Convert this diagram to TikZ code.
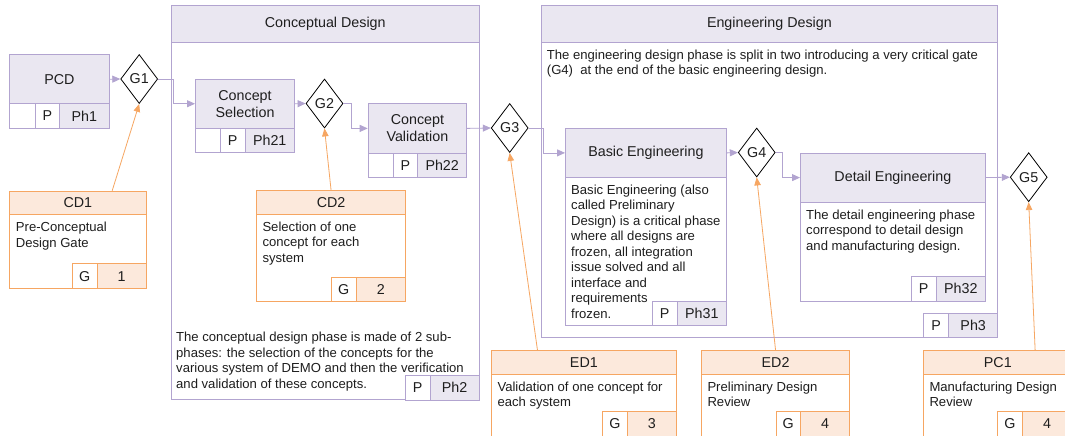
\documentclass[tikz,border=0pt]{standalone}
\usepackage{fontspec}
\setmainfont{Liberation Sans}
\usetikzlibrary{shapes.geometric,arrows.meta,calc}
\definecolor{lavline}{RGB}{178,164,208}
\definecolor{lavfill}{RGB}{234,231,241}
\definecolor{orline}{RGB}{246,166,98}
\definecolor{orfill}{RGB}{252,233,220}
\definecolor{txt}{RGB}{30,30,30}
\newcommand{\headf}{\fontsize{14.3}{17}\selectfont}
\newcommand{\bodyf}{\fontsize{13.1}{15.5}\selectfont}
\tikzset{
  basebox/.style={anchor=north west, inner sep=0pt, line width=0.8pt, text=txt, font=\headf, align=center},
  phasebox/.style={basebox, draw=lavline, fill=lavfill},
  whitebox/.style={basebox, draw=lavline, fill=white},
  cardhead/.style={basebox, draw=orline, fill=orfill},
  cardbody/.style={basebox, draw=orline, fill=white},
  pcell/.style={whitebox, minimum width=24.7pt, minimum height=24.6pt},
  phcell/.style={phasebox, minimum width=49.3pt, minimum height=24.6pt},
  gcell/.style={cardbody, minimum width=24.7pt, minimum height=25pt},
  ncell/.style={cardhead, minimum width=49.3pt, minimum height=25pt},
  remark/.style={anchor=north west, inner sep=0pt, align=left, font=\bodyf, text=txt},
  gate/.style={diamond, draw=black, fill=white, line width=0.8pt, minimum width=37pt, minimum height=49pt, inner sep=0pt, font=\headf, text=txt},
  flow/.style={draw=lavline, line width=0.8pt, -{Triangle[length=8pt,width=7pt]}},
  review/.style={draw=orline, line width=0.8pt, -{Triangle[length=8pt,width=6.5pt]}}
}
\begin{document}
\begin{tikzpicture}[x=1pt,y=-1pt]
  \path[use as bounding box, fill=white] (0,0) rectangle (1065,436);
  \clip (0,0) rectangle (1065,436);
  % Conceptual Design frame
  \node[whitebox, minimum width=308.3pt, minimum height=357.3pt] (CDbody) at (170.7,42) {};
  \node[phasebox, minimum width=308.3pt, minimum height=37.3pt] (CDhead) at (170.7,4.7) {Conceptual Design};
  \node[remark] (CDtext) at (176,332.3) {The conceptual design phase is made of 2 sub-\\phases: the selection of the concepts for the\\various system of DEMO and then the verification\\and validation of these concepts.};
  \node[pcell, minimum width=24.5pt] (CDp) at (405,375) {P};
  \node[phcell, minimum width=49.5pt] (CDph) at (429.5,375) {Ph2};
  % Engineering Design frame
  \node[whitebox, minimum width=456.6pt, minimum height=295.3pt] (EDbody) at (540.7,42) {};
  \node[phasebox, minimum width=456.6pt, minimum height=37.3pt] (EDhead) at (540.7,4.7) {Engineering Design};
  \node[remark] (EDtext) at (546.7,49.7) {The engineering design phase is split in two introducing a very critical gate\\(G4)~ at the end of the basic engineering design.};
  \node[pcell, minimum width=25pt] (EDp) at (923.3,312.7) {P};
  \node[phcell, minimum width=49pt] (EDph) at (948.3,312.7) {Ph3};
  % Phases
  \node[phasebox, minimum width=99.4pt, minimum height=49pt] (PCD) at (9.3,54.3) {PCD};
  \node[pcell, minimum width=25.4pt] (PCDe) at (9.3,103.3) {};
  \node[pcell, minimum width=24.6pt] (PCDp) at (34.7,103.3) {P};
  \node[phcell, minimum width=49.4pt] (PCDph) at (59.3,103.3) {Ph1};
  \node[phasebox, minimum width=99.3pt, minimum height=48.7pt] (CS) at (195,79) {Concept\\Selection};
  \node[pcell, minimum width=25pt] (CSe) at (195,127.7) {};
  \node[pcell] (CSp) at (220,127.7) {P};
  \node[phcell] (CSph) at (244.7,127.7) {Ph21};
  \node[phasebox, minimum width=98.6pt, minimum height=49.4pt] (CV) at (367.7,103.3) {Concept\\Validation};
  \node[pcell, minimum width=25pt] (CVe) at (367.7,152.7) {};
  \node[pcell] (CVp) at (392.7,152.7) {P};
  \node[phcell, minimum width=49pt] (CVph) at (417.3,152.7) {Ph22};
  \node[whitebox, minimum width=161pt, minimum height=148.3pt] (BEbody) at (565,176.7) {};
  \node[phasebox, minimum width=161pt, minimum height=48.4pt] (BE) at (565,128.3) {Basic Engineering};
  \node[remark] (BEtext) at (571,184.7) {Basic Engineering (also\\called Preliminary\\Design) is a critical phase\\where all designs are\\frozen, all integration\\issue solved and all\\interface and\\requirements\\frozen.};
  \node[pcell, minimum width=25pt, minimum height=24.3pt] (BEp) at (651.7,300.7) {P};
  \node[phcell, minimum height=24.3pt] (BEph) at (676.7,300.7) {Ph31};
  \node[whitebox, minimum width=185pt, minimum height=99pt] (DEbody) at (800,201.7) {};
  \node[phasebox, minimum width=185pt, minimum height=49pt] (DE) at (800,152.7) {Detail Engineering};
  \node[remark] (DEtext) at (806,209.7) {The detail engineering phase\\correspond to detail design\\and manufacturing design.};
  \node[pcell, minimum width=25pt, minimum height=24.7pt] (DEp) at (910.7,276) {P};
  \node[phcell, minimum height=24.7pt] (DEph) at (935.7,276) {Ph32};
  % Gates
  \node[gate] (G1) at (139.2,79) {G1};
  \node[gate] (G2) at (324.5,103.5) {G2};
  \node[gate] (G3) at (509.7,128) {G3};
  \node[gate] (G4) at (756.7,152.5) {G4};
  \node[gate] (G5) at (1028.7,177.2) {G5};
  % Flow
  \draw[flow] (PCD.east) -- (G1.west);
  \draw[flow] (G1.east) -- ++(15,0) |- (CS.west);
  \draw[flow] (CS.east) -- (G2.west);
  \draw[flow] (G2.east) -- ++(8,0) |- (CV.west);
  \draw[flow] (CV.east) -- (G3.west);
  \draw[flow] (G3.east) -- ++(15,0) |- (BE.west);
  \draw[flow] (BE.east) -- (G4.west);
  \draw[flow] (G4.east) -- ++(7,0) |- (DE.west);
  \draw[flow] (DE.east) -- (G5.west);
  % Gate reviews
  \node[cardbody, minimum width=136.4pt, minimum height=74pt] (CD1body) at (9.3,214.3) {};
  \node[cardhead, minimum width=136.4pt, minimum height=23.6pt] (CD1) at (9.3,190.7) {CD1};
  \node[remark] (CD1text) at (15.7,222) {Pre-Conceptual\\Design Gate};
  \node[gcell, minimum width=25pt] (CD1g) at (71.7,263.3) {G};
  \node[ncell, minimum width=49pt] (CD1n) at (96.7,263.3) {1};
  \node[cardbody, minimum width=148.7pt, minimum height=86.7pt] (CD2body) at (256.3,214.3) {};
  \node[cardhead, minimum width=148.7pt, minimum height=24.3pt] (CD2) at (256.3,190) {CD2};
  \node[remark] (CD2text) at (262.3,221.7) {Selection of one\\concept for each\\system};
  \node[gcell, minimum width=25pt, minimum height=24.5pt] (CD2g) at (330.7,276.5) {G};
  \node[ncell, minimum height=24.5pt] (CD2n) at (355.7,276.5) {2};
  \node[cardbody, minimum width=185pt, minimum height=62pt] (ED1body) at (491,374.3) {};
  \node[cardhead, minimum width=185pt, minimum height=24.3pt] (ED1) at (491,350) {ED1};
  \node[remark] (ED1text) at (497.3,381.7) {Validation of one concept for\\each system};
  \node[gcell] (ED1g) at (602.3,411) {G};
  \node[ncell, minimum width=49pt] (ED1n) at (627,411) {3};
  \node[cardbody, minimum width=148.3pt, minimum height=62pt] (ED2body) at (701,374.3) {};
  \node[cardhead, minimum width=148.3pt, minimum height=24.3pt] (ED2) at (701,350) {ED2};
  \node[remark] (ED2text) at (707.3,381.7) {Preliminary Design\\Review};
  \node[gcell, minimum width=24.3pt] (ED2g) at (775.7,411) {G};
  \node[ncell] (ED2n) at (800,411) {4};
  \node[cardbody, minimum width=148.3pt, minimum height=62pt] (PC1body) at (923.3,374.3) {};
  \node[cardhead, minimum width=148.3pt, minimum height=24.3pt] (PC1) at (923.3,350) {PC1};
  \node[remark] (PC1text) at (929.3,381.7) {Manufacturing Design\\Review};
  \node[gcell, minimum width=24.4pt] (PC1g) at (997.3,411) {G};
  \node[ncell, minimum width=49.9pt] (PC1n) at (1021.7,411) {4};
  \draw[review] ($(CD1.north west)!0.75!(CD1.north east)$) -- (G1.south);
  \draw[review] ($(CD2.north west)!0.5!(CD2.north east)$) -- (G2.south);
  \draw[review] ($(ED1.north west)!0.25!(ED1.north east)$) -- (G3.south);
  \draw[review] ($(ED2.north west)!0.5!(ED2.north east)$) -- (G4.south);
  \draw[review] ($(PC1.north west)!0.75!(PC1.north east)$) -- (G5.south);
\end{tikzpicture}
\end{document}
